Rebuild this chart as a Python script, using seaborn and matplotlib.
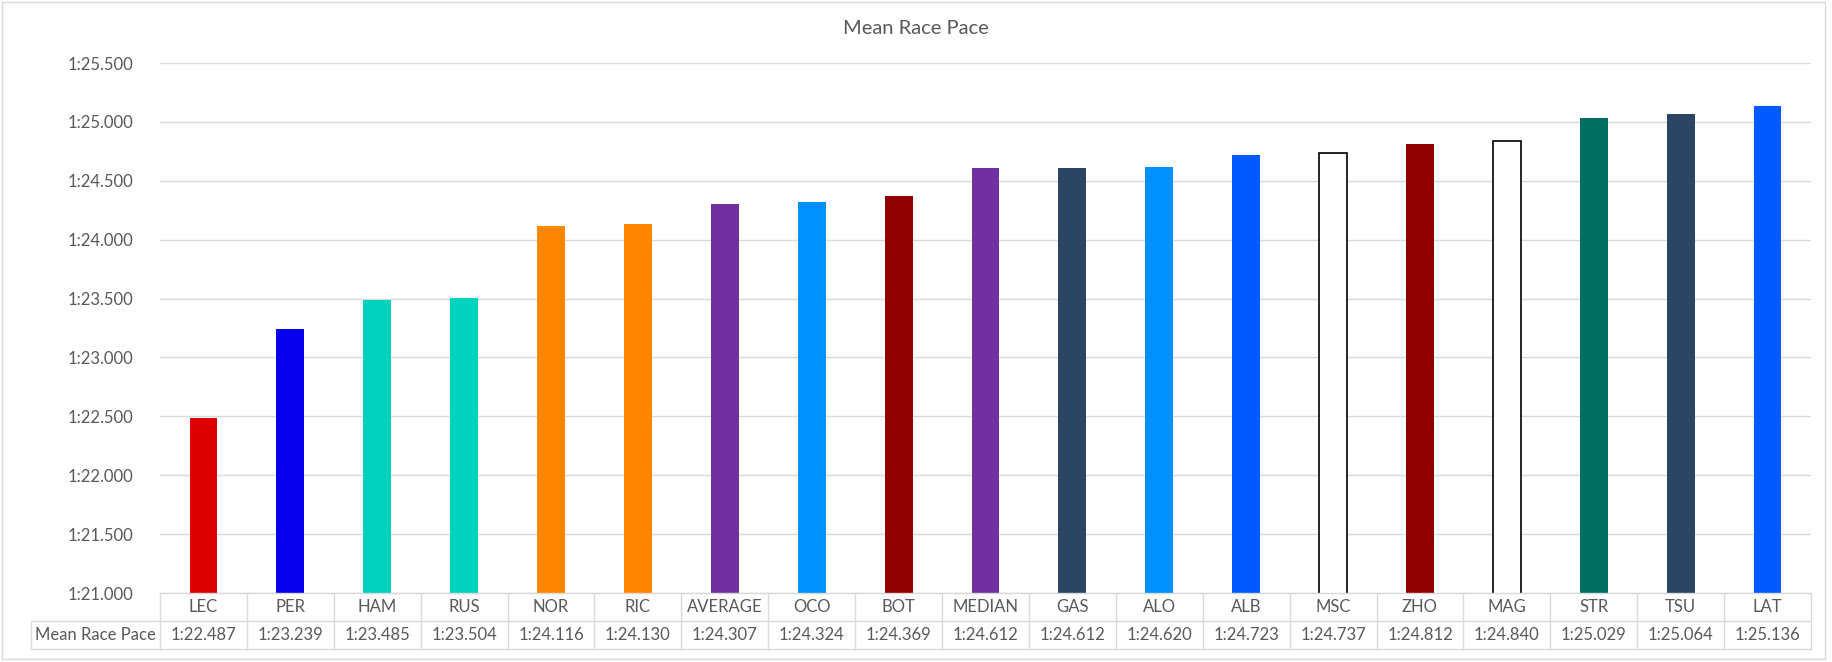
import matplotlib
matplotlib.use("Agg")
import matplotlib.pyplot as plt
import seaborn as sns
import pandas as pd
from matplotlib.lines import Line2D
from matplotlib.patches import Rectangle

# ---- data ----
drivers = ["LEC", "PER", "HAM", "RUS", "NOR", "RIC", "AVERAGE", "OCO", "BOT", "MEDIAN",
           "GAS", "ALO", "ALB", "MSC", "ZHO", "MAG", "STR", "TSU", "LAT"]
pace_seconds = [82.487, 83.239, 83.485, 83.504, 84.116, 84.130, 84.307, 84.324, 84.369, 84.612,
                84.612, 84.620, 84.723, 84.737, 84.812, 84.840, 85.029, 85.064, 85.136]
bar_colors = ["#DC0000", "#0600EF", "#00D2BE", "#00D2BE", "#FF8700", "#FF8700", "#7030A0",
              "#0090FF", "#900000", "#7030A0", "#2B4562", "#0090FF", "#005AFF", "#FFFFFF",
              "#900000", "#FFFFFF", "#006F62", "#2B4562", "#005AFF"]
row_header = "Mean Race Pace"
title = "Mean Race Pace"
y_ticks = [81.0, 81.5, 82.0, 82.5, 83.0, 83.5, 84.0, 84.5, 85.0, 85.5]


def fmt(v):
    m = int(v // 60)
    s = v - 60 * m
    return f"{m}:{s:06.3f}"


df = pd.DataFrame({"driver": drivers, "pace": pace_seconds})

W, H = 1832, 662
sns.set_theme(style="white")
plt.rcParams["font.family"] = ["Lato", "DejaVu Sans"]
TXT = "#595959"
GRID = "#D9D9D9"
FS = 12

fig = plt.figure(figsize=(W / 100, H / 100), dpi=100)
L, R, B, T = 160, 1811, 593, 63
ax = fig.add_axes([L / W, 1 - B / H, (R - L) / W, (B - T) / H])

sns.barplot(data=df, x="driver", y="pace", hue="driver",
            palette=dict(zip(drivers, bar_colors)), width=0.32,
            legend=False, ax=ax, saturation=1)

for p in ax.patches:
    idx = int(round(p.get_x() + p.get_width() / 2))
    if 0 <= idx < len(bar_colors) and bar_colors[idx].upper() == "#FFFFFF":
        p.set_edgecolor("black")
        p.set_linewidth(1.2)
    else:
        p.set_linewidth(0)

ax.set_ylim(81.0, 85.5)
ax.set_xlim(-0.5, len(drivers) - 0.5)
ax.set_yticks(y_ticks)
ax.set_yticklabels([fmt(v) for v in y_ticks], color=TXT, fontsize=FS)
ax.tick_params(axis="y", length=0, pad=19)
ax.set_xticks([])
ax.set_xlabel("")
ax.set_ylabel("")
ax.grid(axis="y", color=GRID, linewidth=1)
ax.set_axisbelow(True)
for s in ax.spines.values():
    s.set_visible(False)

# title
fig.text(916 / W, 1 - 29 / H, title, ha="center", va="center", color=TXT, fontsize=14.5)

# data table
def fx(px):
    return px / W


def fy(py):
    return 1 - py / H


r0, r1, r2 = 593, 621, 649
hx = 31
cw = (R - L) / len(drivers)
lines = []
lines.append(((L, R), (r0, r0)))
lines.append(((hx, R), (r1, r1)))
lines.append(((hx, R), (r2, r2)))
lines.append(((hx, hx), (r1, r2)))
for i in range(len(drivers) + 1):
    x = L + i * cw
    lines.append(((x, x), (r0, r2)))
for (xs, ys) in lines:
    fig.add_artist(Line2D([fx(xs[0]), fx(xs[1])], [fy(ys[0]), fy(ys[1])],
                          color=GRID, linewidth=1, transform=fig.transFigure))

for i, (d, v) in enumerate(zip(drivers, pace_seconds)):
    cx = L + (i + 0.5) * cw
    fig.text(fx(cx), fy((r0 + r1) / 2), d, ha="center", va="center", color=TXT, fontsize=FS)
    fig.text(fx(cx), fy((r1 + r2) / 2), fmt(v), ha="center", va="center", color=TXT, fontsize=FS)
fig.text(fx((hx + L) / 2), fy((r1 + r2) / 2), row_header, ha="center", va="center",
         color=TXT, fontsize=FS)

# outer chart border
fig.add_artist(Rectangle((fx(2), fy(659)), fx(1825) - fx(2), fy(2) - fy(659),
                         transform=fig.transFigure, fill=False, edgecolor=GRID, linewidth=1))

fig.savefig("out.png", dpi=100, facecolor="white")
